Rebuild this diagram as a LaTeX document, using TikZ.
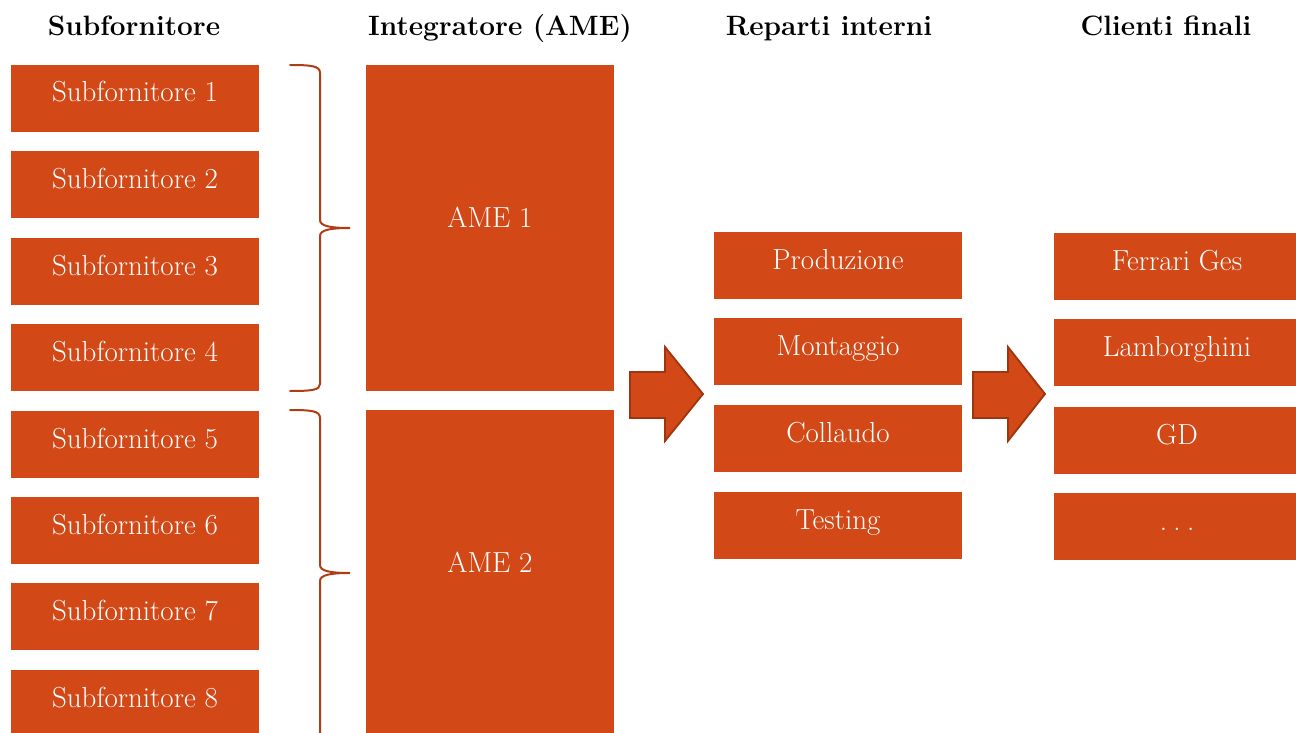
\documentclass[tikz,border=0pt]{standalone}
\definecolor{blockfill}{HTML}{D34817}
\definecolor{blockedge}{HTML}{9C3510}
\definecolor{bracecol}{HTML}{B03C14}
\begin{document}
\begin{tikzpicture}[x=1pt,y=-1pt,
  box/.style={fill=blockfill, draw=none, inner sep=0pt, text=white,
    minimum width=248pt, minimum height=67pt,
    font=\fontsize{29}{32}\selectfont, text height=20pt, text depth=13pt},
  bigbox/.style={box, minimum height=326pt, text height=18pt, text depth=20pt},
  head/.style={anchor=base, inner sep=0pt, font=\fontsize{28}{32}\selectfont\bfseries},
  brace/.style={draw=bracecol, line width=2pt, line cap=round},
  blockarrow/.style={fill=blockfill, draw=blockedge, line width=1.8pt, line join=miter}]
\useasboundingbox (0,0) rectangle (1296,733);

% column headings
\node[head] (h1) at (134,36) {Subfornitore};
\node[head] (h2) at (500,36) {Integratore (AME)};
\node[head] (h3) at (829,36) {Reparti interni};
\node[head] (h4) at (1166,36) {Clienti finali};

% subcontractors
\node[box] (s1) at (135, 98.5) {Subfornitore 1};
\node[box] (s2) at (135,184.5) {Subfornitore 2};
\node[box] (s3) at (135,271.5) {Subfornitore 3};
\node[box] (s4) at (135,357.5) {Subfornitore 4};
\node[box] (s5) at (135,444.5) {Subfornitore 5};
\node[box] (s6) at (135,530.5) {Subfornitore 6};
\node[box] (s7) at (135,616.5) {Subfornitore 7};
\node[box] (s8) at (135,703.5) {Subfornitore 8};

% integrators
\node[bigbox] (a1) at (490,228) {AME 1};
\node[bigbox] (a2) at (490,573) {AME 2};

% internal departments
\node[box] (r1) at (838,265.5) {Produzione};
\node[box] (r2) at (838,351.5) {Montaggio};
\node[box] (r3) at (838,438.5) {Collaudo};
\node[box] (r4) at (838,525.5) {Testing};

% final customers
\node[box, minimum width=246pt] (c1) at (1177,266.5) {Ferrari Ges};
\node[box, minimum width=246pt] (c2) at (1177,352.5) {Lamborghini};
\node[box, minimum width=246pt] (c3) at (1177,440.5) {GD};
\node[box, minimum width=246pt] (c4) at (1177,526.5) {.\hspace{0.22em}.\hspace{0.22em}.};

% braces grouping the subcontractors
\path[brace] (290,65) .. controls (312,65) and (320,66) .. (320,73)
  -- (320,220) .. controls (320,226) and (330,228) .. (350,228)
  .. controls (330,228) and (320,230) .. (320,236)
  -- (320,384) .. controls (320,390) and (312,391) .. (290,391);
\path[brace] (290,410) .. controls (312,410) and (320,411) .. (320,418)
  -- (320,565) .. controls (320,571) and (330,573) .. (350,573)
  .. controls (330,573) and (320,575) .. (320,581)
  -- (320,733);

% block arrows between columns
\path[blockarrow] (630,372) -- (665,372) -- (665,347) -- (703,394)
  -- (665,441) -- (665,418) -- (630,418) -- cycle;
\path[blockarrow] (973,372) -- (1008,372) -- (1008,347) -- (1045,394)
  -- (1008,441) -- (1008,418) -- (973,418) -- cycle;
\end{tikzpicture}
\end{document}
